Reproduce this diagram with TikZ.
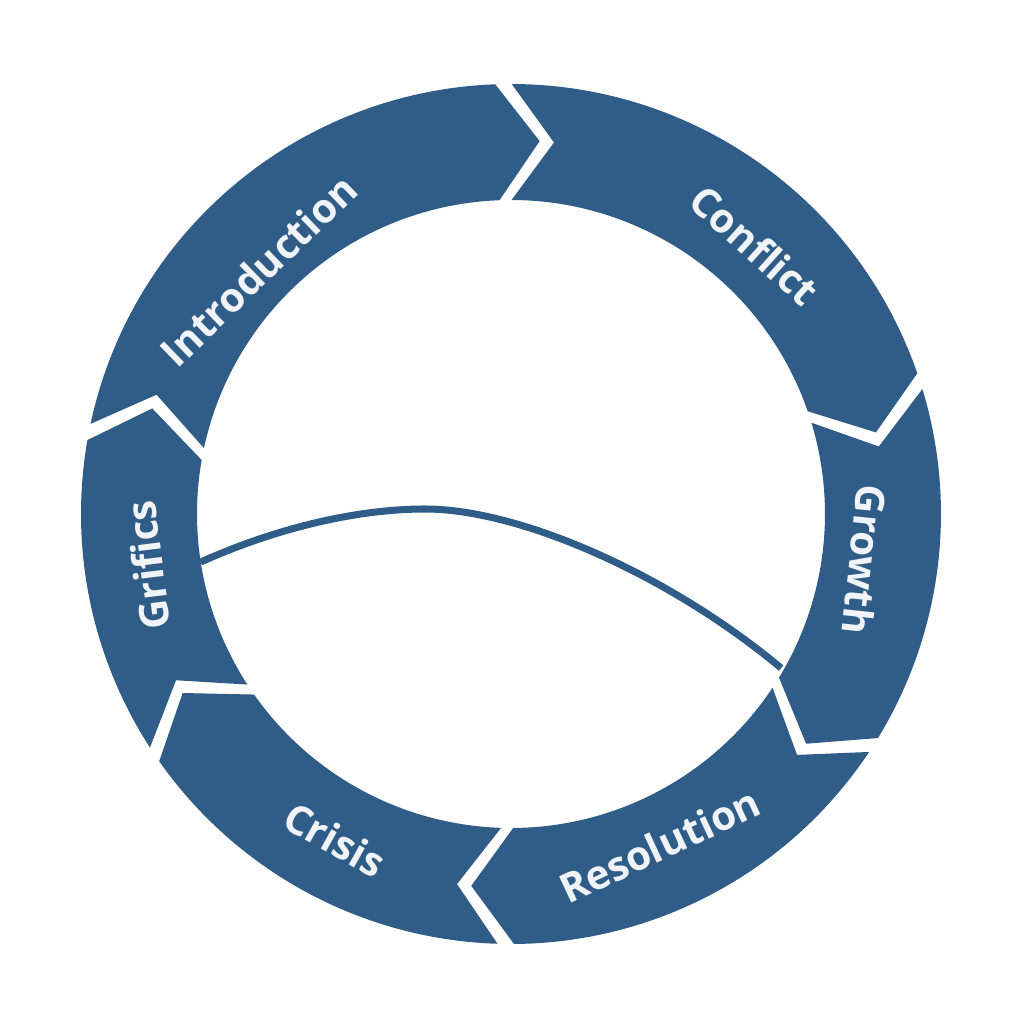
\documentclass[tikz,border=0pt]{standalone}
\usepackage{fontspec}
\setmainfont{Open Sans}
\definecolor{ringblue}{RGB}{47,93,135}
\definecolor{labwhite}{RGB}{240,244,248}
\tikzset{
  segment/.style={fill=ringblue},
  seglabel/.style={text=labwhite,font=\fontsize{11.5}{14}\selectfont\bfseries}
}
\begin{document}
\begin{tikzpicture}
  \def\Ro{4.30}
  \def\Ri{3.14}
  \def\Rt{3.74}
  \def\gap{1.1}
  \def\tip{6.5}
  \useasboundingbox (-5.11,-5.10) rectangle (5.13,5.14);
  % sest sipek po kruhu ve smeru hodin; spicka jedne zapada do zarezu dalsi
  \foreach \a/\b in {169/91, 91/18, 18/-32.5, -32.5/-90.7, -90.7/-146, -146/-191}{
    \pgfmathsetmacro{\s}{\a-\gap}
    \pgfmathsetmacro{\e}{\b+\gap}
    \fill[segment] (\s:\Ro) arc[start angle=\s, end angle=\e, radius=\Ro]
      -- ({\e-\tip}:\Rt) -- (\e:\Ri)
      arc[start angle=\e, end angle=\s, radius=\Ri]
      -- ({\s-\tip}:\Rt) -- cycle;
  }
  \node[seglabel,rotate=44]  (intro)    at (136:3.51)    {Introduction};
  \node[seglabel,rotate=-42] (conflict) at (47.8:3.63)   {Conflict};
  \node[seglabel,rotate=-96] (growth)   at (-7.4:3.57)   {Growth};
  \node[seglabel,rotate=25]  (resol)    at (-65.8:3.63)  {Resolution};
  \node[seglabel,rotate=-29] (crisis)   at (-118.4:3.70) {Crisis};
  \node[seglabel,rotate=97]  (grifics)  at (-172:3.67)   {Grifics};
  \coordinate (curveL) at (188.8:3.14);
  \coordinate (curveR) at (-29.7:3.11);
  \draw[ringblue,line width=2pt] (curveL)
    .. controls (-2.3,-0.12) and (-1.5,0.05) .. (-0.86,0.05)
    .. controls (0.1,0.05) and (1.6,-0.62) .. (curveR);
\end{tikzpicture}
\end{document}
